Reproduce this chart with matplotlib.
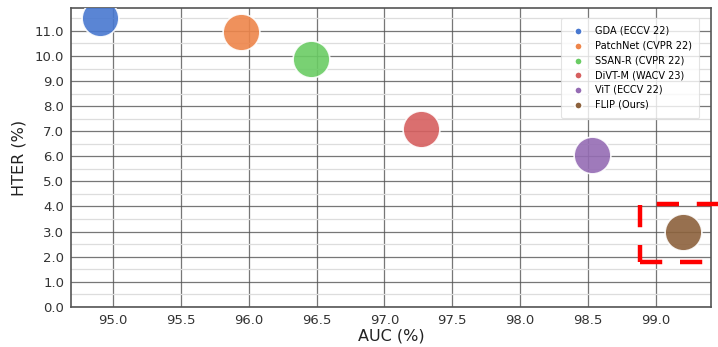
import matplotlib
matplotlib.use("Agg")
import matplotlib.pyplot as plt
from matplotlib.patches import Rectangle
from matplotlib.ticker import MultipleLocator, FormatStrFormatter

methods = ["GDA (ECCV 22)", "PatchNet (CVPR 22)", "SSAN-R (CVPR 22)",
           "DiVT-M (WACV 23)", "ViT (ECCV 22)", "FLIP (Ours)"]
auc = [94.90, 95.94, 96.46, 97.27, 98.53, 99.20]
hter = [11.50, 10.97, 9.87, 7.07, 6.04, 3.00]
colors = ["#4878d0", "#ee854a", "#6acc64", "#d65f5f", "#956cb4", "#8c613c"]

fig = plt.figure(figsize=(7.18, 3.47), dpi=100)
ax = fig.add_axes([0.0989, 0.116, 0.891, 0.860])

for m, x, y, c in zip(methods, auc, hter, colors):
    ax.scatter(x, y, s=700, color=c, alpha=0.9, edgecolor="white",
               linewidth=1.2, label=m, zorder=3)

ax.set_xlim(94.69, 99.405)
ax.set_ylim(0, 11.9)
ax.xaxis.set_major_locator(MultipleLocator(0.5))
ax.yaxis.set_major_locator(MultipleLocator(1.0))
ax.yaxis.set_minor_locator(MultipleLocator(0.5))
ax.xaxis.set_major_formatter(FormatStrFormatter("%.1f"))
ax.yaxis.set_major_formatter(FormatStrFormatter("%.1f"))
ax.grid(which="major", color="#555555", linewidth=0.9, alpha=0.8, zorder=0)
ax.grid(which="minor", axis="y", color="#dddddd", linewidth=0.9, zorder=0)
ax.set_axisbelow(True)
ax.tick_params(axis="both", which="both", length=0, labelsize=9.5,
               labelcolor="#333333", pad=5)
for s in ax.spines.values():
    s.set_color("#555555")
    s.set_linewidth(1.2)

ax.set_xlabel("AUC (%)", fontsize=11.5, color="#222222", labelpad=1)
ax.set_ylabel("HTER (%)", fontsize=11.5, color="#222222", labelpad=6)

leg = ax.legend(loc="upper right", fontsize=7, markerscale=0.2,
                frameon=True, borderpad=0.8, labelspacing=0.5,
                handletextpad=0.7, bbox_to_anchor=(0.99, 0.985))
leg.get_frame().set_edgecolor("#dddddd")
leg.get_frame().set_linewidth(0.8)
for h in leg.legend_handles:
    h.set_alpha(1)

rect = Rectangle((98.88, 1.79), 0.75, 2.31, fill=False, edgecolor="red",
                 linewidth=3.2, linestyle=(0, (5, 4)), clip_on=False, zorder=4)
ax.add_patch(rect)

fig.savefig("out.png", dpi=100)
